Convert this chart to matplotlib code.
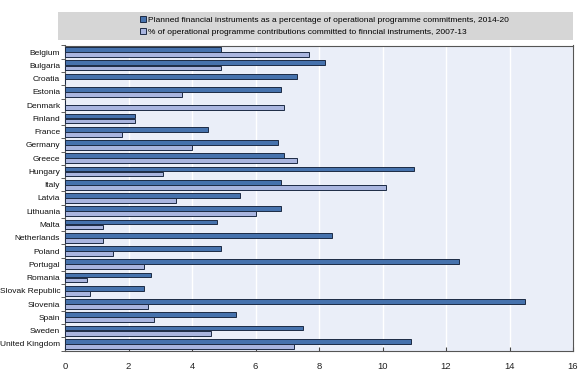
import matplotlib
matplotlib.use("Agg")
import matplotlib.pyplot as plt
from matplotlib.patches import Rectangle, Patch
import numpy as np

countries = ["Belgium", "Bulgaria", "Croatia", "Estonia", "Denmark", "Finland", "France",
             "Germany", "Greece", "Hungary", "Italy", "Latvia", "Lithuania", "Malta",
             "Netherlands", "Poland", "Portugal", "Romania", "Slovak Republic", "Slovenia",
             "Spain", "Sweden", "United Kingdom"]
planned_2014_20 = [4.9, 8.2, 7.3, 6.8, 0.0, 2.2, 4.5, 6.7, 6.9, 11.0, 6.8, 5.5, 6.8, 4.8,
                   8.4, 4.9, 12.4, 2.7, 2.5, 14.5, 5.4, 7.5, 10.9]
committed_2007_13 = [7.7, 4.9, 0.0, 3.7, 6.9, 2.2, 1.8, 4.0, 7.3, 3.1, 10.1, 3.5, 6.0, 1.2,
                     1.2, 1.5, 2.5, 0.7, 0.8, 2.6, 2.8, 4.6, 7.2]
series_labels = ["Planned financial instruments as a percentage of operational programme commitments, 2014-20",
                 "% of operational programme contributions committed to finncial instruments, 2007-13"]
xticks = [0, 2, 4, 6, 8, 10, 12, 14, 16]

fam = ["Liberation Sans Narrow", "Liberation Sans", "DejaVu Sans"]
dark = "#4672ad"
light = "#a9b5df"
edge = "#1c2a44"

fig = plt.figure(figsize=(5.81, 3.88), dpi=100)
ax = fig.add_axes([65/581, 1-350.5/388, (573-65)/581, (350.5-45.5)/388])
ax.set_facecolor("#eaeef8")

y = np.arange(len(countries))
h = 0.36
ax.barh(y - h/2 - 0.01, planned_2014_20, height=h, color=dark, edgecolor=edge, linewidth=0.7, zorder=3)
ax.barh(y + h/2 + 0.01, committed_2007_13, height=h, color=light, edgecolor=edge, linewidth=0.7, zorder=3)

ax.set_ylim(len(countries) - 0.5, -0.5)
ax.set_xlim(0, 16)
ax.set_xticks(xticks)
ax.set_xticklabels([str(t) for t in xticks], family=fam, fontsize=6.8, color="#222222")
ax.set_yticks(y)
ax.set_yticklabels(countries, family=fam, fontsize=6.0, color="#111111")
ax.tick_params(axis="y", length=0, pad=3.5)
ax.tick_params(axis="x", direction="in", length=3, color="#444444", pad=8)
ax.set_yticks(np.arange(len(countries) + 1) - 0.5, minor=True)
ax.tick_params(axis="y", which="minor", length=3, direction="out", color="#444444")
ax.grid(axis="x", color="white", linewidth=1.0, zorder=0)
ax.set_axisbelow(True)
for s in ax.spines.values():
    s.set_color("#555555")
    s.set_linewidth(0.8)

fig.patches.append(Rectangle((58/581, 1-40/388), (573-58)/581, 28/388,
                             transform=fig.transFigure, facecolor="#d6d6d6",
                             edgecolor="none", zorder=0))
handles = [Patch(facecolor=dark, edgecolor=edge, linewidth=0.7),
           Patch(facecolor=light, edgecolor=edge, linewidth=0.7)]
fig.legend(handles, series_labels, loc="center left",
           bbox_to_anchor=(140/581, 1-26/388), frameon=False,
           prop={"family": fam, "size": 6.0}, handlelength=0.7, handleheight=0.7,
           handletextpad=0.3, labelspacing=0.5, borderpad=0, borderaxespad=0)

fig.savefig("out.png", dpi=100)
